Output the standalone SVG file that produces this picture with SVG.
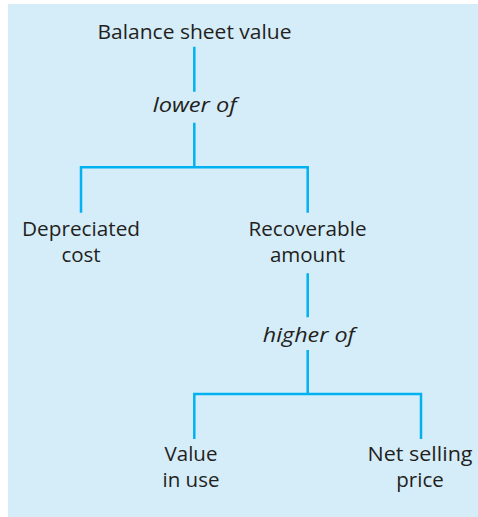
<svg xmlns="http://www.w3.org/2000/svg" width="478" height="517" viewBox="0 0 478 517">
<style>
.t{font-family:"Open Sans","Noto Sans","DejaVu Sans",sans-serif;font-size:20.5px;fill:#231f20;text-anchor:middle}
.i{font-style:italic}
.c{stroke:#00b2ef;stroke-width:2.5;fill:none}
</style>
<rect x="8" y="4" width="470" height="513" fill="#d5ecf9"/>
<g id="connectors">
<path class="c" d="M194.3 46.7V91.7M194.3 122.7V167.3M81 212.7V167.3H307.7V212.7"/>
<path class="c" d="M307.7 273.3V317.3M307.7 350V394M194.3 439V394H421V439"/>
</g>
<g id="balance"><text class="t" x="194.5" y="39" textLength="194" lengthAdjust="spacingAndGlyphs">Balance sheet value</text></g>
<g id="lower"><text class="t i" x="194.7" y="111.7" textLength="84" lengthAdjust="spacingAndGlyphs">lower of</text></g>
<g id="depreciated"><text class="t" x="81" y="236" textLength="118" lengthAdjust="spacingAndGlyphs">Depreciated</text><text class="t" x="81" y="262">cost</text></g>
<g id="recoverable"><text class="t" x="307.5" y="236" textLength="118" lengthAdjust="spacingAndGlyphs">Recoverable</text><text class="t" x="307.5" y="262">amount</text></g>
<g id="higher"><text class="t i" x="308.8" y="341.7" textLength="92" lengthAdjust="spacingAndGlyphs">higher of</text></g>
<g id="value"><text class="t" x="191" y="461">Value</text><text class="t" x="191" y="487">in use</text></g>
<g id="net"><text class="t" x="420" y="461" textLength="105" lengthAdjust="spacingAndGlyphs">Net selling</text><text class="t" x="420" y="487">price</text></g>
</svg>
